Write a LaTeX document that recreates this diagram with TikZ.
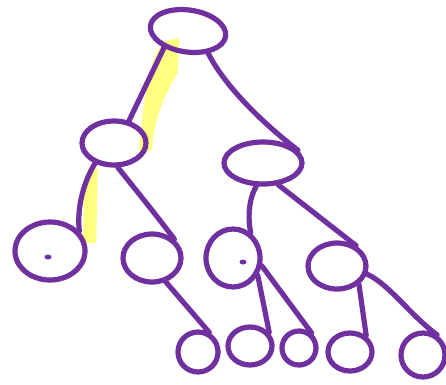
\documentclass[tikz,border=0pt]{standalone}
\usetikzlibrary{shapes.geometric}
\definecolor{purp}{RGB}{112,48,160}
\definecolor{hilite}{RGB}{255,255,128}
\begin{document}
\begin{tikzpicture}[x=1pt,y=-1pt,
  blob/.style={draw=purp,line width=5.2pt,ellipse,inner sep=0pt},
  link/.style={draw=purp,line width=5.2pt,line cap=round}]
\useasboundingbox (0,0) rectangle (446,384);
% highlighter
\fill[hilite] (165,41) -- (179,38) -- (178,72) .. controls (168,90) and (155,110) .. (152,150) -- (139,153) .. controls (142,110) and (148,70) .. (157,52) -- cycle;
\fill[hilite] (88,168) -- (98,168) -- (96,243) -- (83,243) -- (84,190) -- cycle;
% nodes
\node[blob,minimum width=76pt,minimum height=42pt,rotate=-8] (root) at (188,31) {};
\node[blob,minimum width=64pt,minimum height=44pt] (L) at (114,143) {};
\node[blob,minimum width=78pt,minimum height=42pt] (R) at (263,163) {};
\node[blob,minimum width=70pt,minimum height=58pt] (LL) at (50,251) {};
\node[blob,minimum width=58pt,minimum height=48pt] (LR) at (152,258) {};
\node[blob,minimum width=54pt,minimum height=58pt] (RL) at (233,258) {};
\node[blob,minimum width=58pt,minimum height=46pt] (RR) at (337,266) {};
\node[blob,minimum width=40pt,minimum height=40pt] (A) at (198,352) {};
\node[blob,minimum width=44pt,minimum height=38pt] (B) at (250,346) {};
\node[blob,minimum width=34pt,minimum height=34pt] (C) at (299,348) {};
\node[blob,minimum width=44pt,minimum height=38pt] (D) at (350,352) {};
\node[blob,minimum width=44pt,minimum height=44pt] (E) at (423,355) {};
% dots
\fill[purp] (48,257) ellipse (3.5pt and 2.5pt);
\fill[purp] (243,262) ellipse (3.5pt and 2.5pt);
% connectors
\draw[link] (root.223) -- (L.56);
\draw[link] (root.320) .. controls (226,88) and (265,125) .. (R.20);
\draw[link] (L.227) .. controls (82,185) and (77,210) .. (LL.34);
\draw[link] (L.279) .. controls (140,195) and (160,220) .. (LR.40);
\draw[link] (LR.300) -- (A.60);
\draw[link] (R.254) .. controls (248,200) and (248,220) .. (RL.55);
\draw[link] (R.305) -- (RR.47);
\draw[link] (RL.325) -- (B.35);
\draw[link] (RL.345) -- (C.50);
\draw[link] (RR.320) -- (D.45);
\draw[link] (RR.345) .. controls (390,285) and (410,315) .. (E.55);
\end{tikzpicture}
\end{document}
